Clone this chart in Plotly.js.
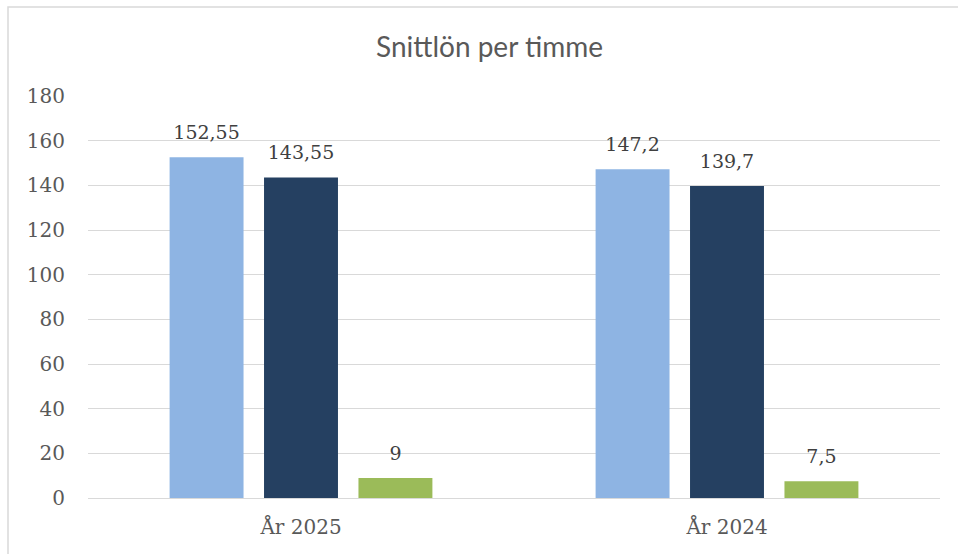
<!DOCTYPE html>
<html>
<head>
<meta charset="utf-8">
<script src="https://cdn.plot.ly/plotly-3.0.1.min.js"></script>
<style>html,body{margin:0;padding:0;background:#fff;}#chart{width:958px;height:554px;}</style>
</head>
<body>
<div id="chart"></div>
<script>
const categories = ["År 2025", "År 2024"];
const seriesA = [152.55, 147.2];
const seriesB = [143.55, 139.7];
const seriesC = [9, 7.5];
const seriesColors = ["#8EB4E3", "#254061", "#9BBB59"];
const yTicks = [0, 20, 40, 60, 80, 100, 120, 140, 160, 180];

const fmt = v => String(v).replace('.', ',');
const serif = "DejaVu Serif, Liberation Serif, serif";
const allSeries = [seriesA, seriesB, seriesC];

const data = [];
allSeries.forEach((vals, i) => {
  data.push({
    type: 'bar', x: categories, y: vals, name: 's' + i,
    marker: {color: seriesColors[i]}, hoverinfo: 'none'
  });
});
allSeries.forEach((vals, i) => {
  data.push({
    type: 'scatter', mode: 'text+markers', x: categories, y: vals, name: 't' + i,
    marker: {size: 20, opacity: 0}, cliponaxis: false,
    text: vals.map(fmt), textposition: 'top center',
    textfont: {family: serif, size: 19, color: '#404040'}, hoverinfo: 'none'
  });
});

const layout = {
  width: 958, height: 554,
  margin: {l: 88, r: 18, t: 96, b: 56},
  paper_bgcolor: '#fff', plot_bgcolor: '#fff',
  showlegend: false,
  barmode: 'group', bargap: 0.335, bargroupgap: 0.217,
  scattermode: 'group', scattergap: 0.335,
  title: {text: 'Snittlön per timme', font: {family: 'Lato, Open Sans, sans-serif', size: 28, color: '#595959'},
          xref: 'container', x: 0.511, xanchor: 'center', yref: 'container', y: 1 - 47/554, yanchor: 'middle'},
  xaxis: {type: 'category', showgrid: false, showline: false, ticks: '', zeroline: false, ticklabelstandoff: 15,
          tickfont: {family: serif, size: 20, color: '#595959'}},
  yaxis: {range: [0, 180], tickvals: yTicks, ticktext: yTicks.map(String), showgrid: true, gridcolor: '#d9d9d9', gridwidth: 1,
          zeroline: true, zerolinecolor: '#d9d9d9', zerolinewidth: 1, showline: false, ticks: '', ticklabelstandoff: 22,
          tickfont: {family: serif, size: 20, color: '#595959'}},
  shapes: [{type: 'rect', xref: 'paper', yref: 'paper', x0: -0.0939, x1: 1.03, y0: -0.16, y1: 1.2214,
            line: {color: '#d9d9d9', width: 1.5}, fillcolor: 'rgba(0,0,0,0)', layer: 'below'}]
};

Plotly.newPlot('chart', data, layout, {staticPlot: true, displayModeBar: false});
</script>
</body>
</html>
